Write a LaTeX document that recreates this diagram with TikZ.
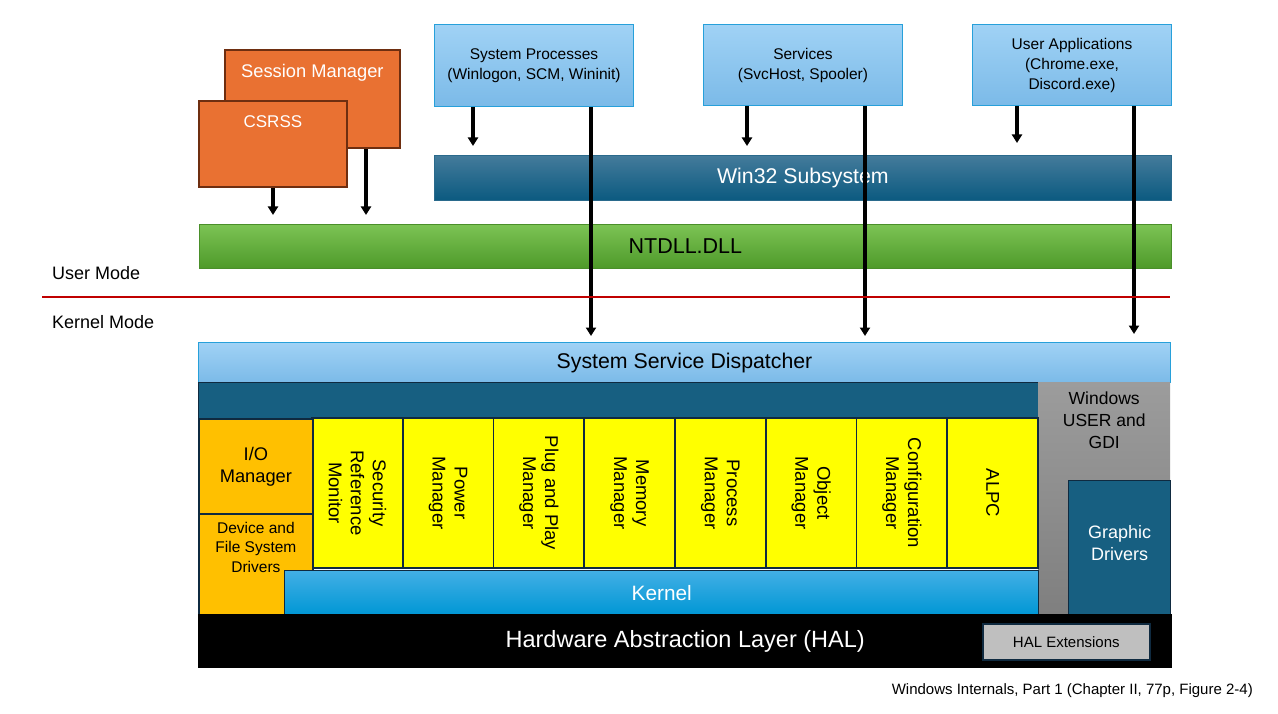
\documentclass[tikz,border=0pt]{standalone}
\usepackage{fontspec}
\setmainfont{Liberation Sans}
\usetikzlibrary{arrows.meta}
\definecolor{smfill}{HTML}{E97132}
\definecolor{smdraw}{HTML}{6E2E10}
\definecolor{lbtop}{HTML}{A0D2F5}
\definecolor{lbbot}{HTML}{7BBAE8}
\definecolor{lbdraw}{HTML}{27A0DA}
\definecolor{w32top}{HTML}{447B9B}
\definecolor{w32bot}{HTML}{0B5A80}
\definecolor{w32draw}{HTML}{2A6A8C}
\definecolor{grtop}{HTML}{7CC354}
\definecolor{grbot}{HTML}{4E9A2A}
\definecolor{grdraw}{HTML}{4A8F2A}
\definecolor{darkbar}{HTML}{175F81}
\definecolor{navy}{HTML}{0F2A40}
\definecolor{ylw}{HTML}{FFFF00}
\definecolor{iofill}{HTML}{FFC000}
\definecolor{ktop}{HTML}{42AFE5}
\definecolor{kbot}{HTML}{0097D5}
\definecolor{gytop}{HTML}{9C9C9C}
\definecolor{gybot}{HTML}{7F7F7F}
\definecolor{halext}{HTML}{BFBFBF}
\definecolor{redline}{HTML}{C00000}
\tikzset{
  bx/.style={draw, inner sep=0pt, anchor=north west, align=center},
  arr/.style={line width=3.2pt, -{Triangle[width=10pt,length=8.5pt]}},
  orbox/.style={bx, fill=smfill, draw=smdraw, line width=1.8pt},
  topbox/.style={bx, top color=lbtop, bottom color=lbbot, draw=lbdraw, line width=1pt,
    font=\fontsize{15.5}{20}\selectfont},
  yb/.style={draw=navy, fill=ylw, line width=1.8pt, inner sep=0pt, align=center,
    minimum width=150pt, minimum height=90.75pt, anchor=center, rotate=-90,
    font=\fontsize{18.5}{22}\selectfont},
  lbl/.style={inner sep=0pt, font=\fontsize{18}{22}\selectfont},
}
\begin{document}
\begin{tikzpicture}[x=1pt,y=-1pt]
\useasboundingbox (0,0) rectangle (1278,714);
\fill[white] (0,0) rectangle (1278,714);

% user mode processes
\node[orbox, minimum width=175pt, minimum height=98pt,
  label={[text=white, font=\fontsize{18.3}{22}\selectfont, yshift=26pt]center:Session Manager}] (sm) at (224,49) {};
\node[orbox, minimum width=148pt, minimum height=86pt,
  label={[text=white, font=\fontsize{17}{22}\selectfont, yshift=22pt]center:CSRSS}] (csrss) at (198,100) {};

\node[topbox, minimum width=199pt, minimum height=82pt] (sp) at (434,24) {System Processes\\(Winlogon, SCM, Wininit)};
\node[topbox, minimum width=199pt, minimum height=81pt] (sv) at (703,24) {Services\\(SvcHost, Spooler)};
\node[topbox, minimum width=199pt, minimum height=81pt] (ua) at (972,24) {User Applications\\(Chrome.exe,\\Discord.exe)};

\node[bx, top color=w32top, bottom color=w32bot, draw=w32draw, line width=0.8pt,
  minimum width=737pt, minimum height=45pt, text=white, font=\fontsize{21.3}{25}\selectfont] (w32) at (434,155) {Win32 Subsystem};
\node[bx, top color=grtop, bottom color=grbot, draw=grdraw, line width=0.8pt,
  minimum width=972pt, minimum height=44pt, font=\fontsize{21.5}{25}\selectfont] (ntdll) at (199,224) {NTDLL.DLL};

% arrows
\coordinate (c1) at (273,215);
\coordinate (c2) at (366,215);
\draw[arr] (csrss.south -| c1) -- (c1);
\draw[arr] (sm.south -| c2) -- (c2);
\coordinate (s1) at (473,146);
\coordinate (s2) at (747,146);
\coordinate (s3) at (1017,143);
\draw[arr] (sp.south -| s1) -- (s1);
\draw[arr] (sv.south -| s2) -- (s2);
\draw[arr] (ua.south -| s3) -- (s3);
\coordinate (e1) at (591,336);
\coordinate (e2) at (865,336);
\coordinate (e3) at (1134,334);
\draw[arr] (sp.south -| e1) -- (e1);
\draw[arr] (sv.south -| e2) -- (e2);
\draw[arr] (ua.south -| e3) -- (e3);

% mode separator
\node[lbl, anchor=west] (um) at (52,273) {User Mode};
\node[lbl, anchor=west] (km) at (52,322) {Kernel Mode};
\coordinate (r1) at (42,297);
\coordinate (r2) at (1170,297);
\draw[redline, line width=1.4pt] (r1) -- (r2);

% kernel mode
\node[bx, top color=lbtop, bottom color=lbbot, draw=lbdraw, line width=1pt,
  minimum width=972pt, minimum height=40pt, font=\fontsize{21.3}{25}\selectfont] (ssd) at (198,342) {System Service Dispatcher};
\node[bx, fill=darkbar, draw=navy, line width=1.4pt, minimum width=840pt, minimum height=36pt] (exec) at (198,382) {};
\node[bx, top color=gytop, bottom color=gybot, draw=none, minimum width=132pt, minimum height=232pt,
  label={[font=\fontsize{17.5}{22}\selectfont, align=center, yshift=78pt]center:Windows\\USER and\\GDI}] (gdi) at (1038,382) {};
\node[bx, fill=darkbar, draw=navy, line width=1.4pt, minimum width=102pt, minimum height=134pt,
  label={[text=white, font=\fontsize{18}{22}\selectfont, align=center, yshift=4.5pt]center:Graphic\\Drivers}] (gd) at (1068,480) {};

\node[yb] (srm) at (357.375,493) {Security\\Reference\\Monitor};
\node[yb] (pwr) at (448.125,493) {Power\\Manager};
\node[yb] (pnp) at (538.875,493) {Plug and Play\\Manager};
\node[yb] (mem) at (629.625,493) {Memory\\Manager};
\node[yb] (proc) at (720.375,493) {Process\\Manager};
\node[yb] (obj) at (811.125,493) {Object\\Manager};
\node[yb] (cfg) at (901.875,493) {Configuration\\Manager};
\node[yb] (alpc) at (992.625,493) {ALPC};

\node[bx, fill=iofill, draw=navy, line width=1.8pt, minimum width=114pt, minimum height=95pt,
  font=\fontsize{18.3}{22}\selectfont] (io) at (198,418) {I/O\\Manager};
\node[bx, fill=iofill, draw=navy, line width=1.8pt, minimum width=114pt, minimum height=101pt,
  label={[font=\fontsize{15.5}{19.5}\selectfont, align=center, yshift=17pt]center:Device and\\File System\\Drivers}] (dev) at (198,513) {};
\node[bx, top color=ktop, bottom color=kbot, draw=navy, line width=1.4pt, minimum width=754pt, minimum height=44pt,
  text=white, font=\fontsize{20.8}{25}\selectfont] (kern) at (284,570) {Kernel};

\node[bx, fill=black, draw=none, minimum width=974pt, minimum height=54pt, text=white,
  font=\fontsize{23.5}{28}\selectfont] (hal) at (198,614) {Hardware Abstraction Layer (HAL)};
\node[bx, fill=halext, draw=navy, line width=1.6pt, minimum width=167pt, minimum height=36pt,
  font=\fontsize{15}{18}\selectfont] (hx) at (982,623) {HAL Extensions};

\node[inner sep=0pt, anchor=east, font=\fontsize{15}{18}\selectfont] (cap) at (1253,691) {Windows Internals, Part 1 (Chapter II, 77p, Figure 2-4)};
\end{tikzpicture}
\end{document}
